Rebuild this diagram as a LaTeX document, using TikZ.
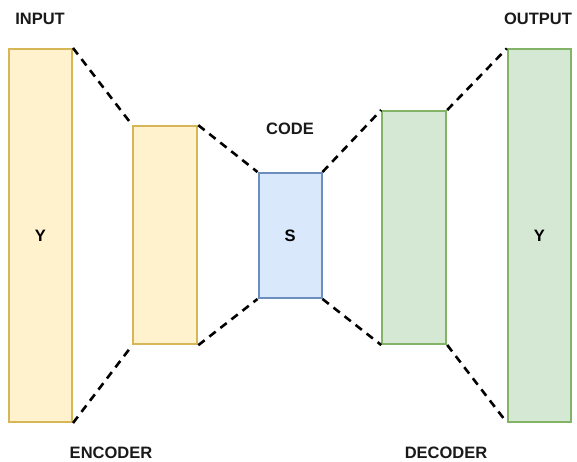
\documentclass[tikz,border=0pt]{standalone}
\usepackage{fontspec}
\setmainfont{Liberation Sans}
\definecolor{yfill}{HTML}{FFF2CC}
\definecolor{ydraw}{HTML}{D6B656}
\definecolor{bfill}{HTML}{DAE8FC}
\definecolor{bdraw}{HTML}{6C8EBF}
\definecolor{gfill}{HTML}{D5E8D4}
\definecolor{gdraw}{HTML}{82B366}
\tikzset{
  layer/.style={rectangle, inner sep=0pt, line width=2pt, font=\fontsize{16.5}{18}\selectfont\bfseries},
  yellowbox/.style={layer, fill=yfill, draw=ydraw},
  bluebox/.style={layer, fill=bfill, draw=bdraw},
  greenbox/.style={layer, fill=gfill, draw=gdraw},
  lbl/.style={font=\fontsize{16.5}{18}\selectfont\bfseries, text=black!90, inner sep=0pt},
  link/.style={line width=2.6pt, dash pattern=on 8pt off 6pt, black},
}
\begin{document}
\begin{tikzpicture}[x=1pt,y=-1pt]
\useasboundingbox (0,0) rectangle (577,462);
\node[yellowbox, minimum width=63pt, minimum height=373pt] (in) at (40.5,235.5) {Y};
\node[yellowbox, minimum width=64pt, minimum height=218pt] (enc) at (165.3,235.2) {};
\node[bluebox, minimum width=63pt, minimum height=125pt] (code) at (290,235.5) {S};
\node[greenbox, minimum width=64pt, minimum height=233pt] (dec) at (414.2,227.5) {};
\node[greenbox, minimum width=63pt, minimum height=372pt] (out) at (539.3,235.5) {Y};
\draw[link] (in.north east) -- (enc.north west);
\draw[link] (in.south east) -- (enc.south west);
\draw[link] (enc.north east) -- (code.north west);
\draw[link] (enc.south east) -- (code.south west);
\draw[link] (code.north east) -- (dec.north west);
\draw[link] (code.south east) -- (dec.south west);
\draw[link] (dec.north east) -- (out.north west);
\draw[link] (dec.south east) -- (out.south west);
\node[lbl] (tin) at (40,19) {INPUT};
\node[lbl] (tcode) at (290,128.5) {CODE};
\node[lbl] (tout) at (538,19) {OUTPUT};
\node[lbl] (tenc) at (111,453) {ENCODER};
\node[lbl] (tdec) at (446,453) {DECODER};
\end{tikzpicture}
\end{document}
